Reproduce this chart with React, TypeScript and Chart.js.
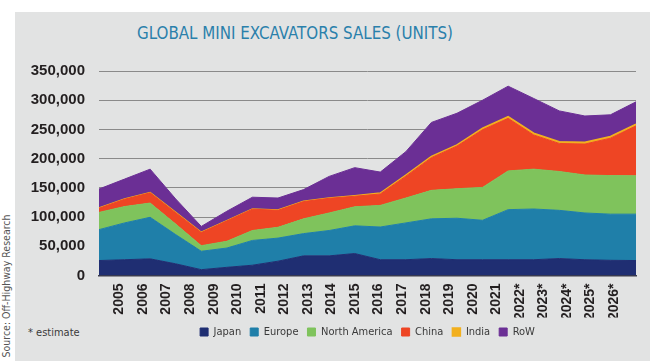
import React, { useEffect, useRef } from 'react';
import { Chart, registerables } from 'chart.js';

Chart.register(...registerables);

const years = ['2005', '2006', '2007', '2008', '2009', '2010', '2011', '2012', '2013', '2014', '2015', '2016', '2017', '2018', '2019', '2020', '2021', '2022*', '2023*', '2024*', '2025*', '2026*'];

const japan = [25600, 27000, 28500, 20000, 10000, 14000, 17600, 24500, 33600, 33600, 37600, 27000, 27000, 29000, 27000, 27000, 27000, 27000, 29000, 27000, 26000, 25600];
const europe = [52900, 63000, 71100, 50000, 31500, 33000, 42400, 39500, 38100, 43400, 47400, 56000, 63000, 68000, 71000, 67500, 85700, 86800, 82500, 80000, 79000, 79400];
const northAmerica = [29500, 28000, 24400, 18000, 9500, 11600, 17000, 18500, 25300, 30000, 32600, 37000, 42600, 48700, 50500, 56300, 66300, 68200, 66500, 65000, 66000, 65600];
const china = [7000, 12500, 17500, 19500, 22500, 34900, 36500, 29000, 29500, 25100, 18000, 19500, 37400, 56000, 73100, 98700, 90000, 58500, 48000, 53000, 64000, 85500];
const india = [500, 500, 500, 500, 500, 500, 500, 500, 500, 500, 1000, 1500, 2000, 2000, 2000, 2500, 3000, 3000, 3000, 3000, 3000, 3000];
const row = [32500, 34000, 40000, 23000, 10000, 16000, 20000, 20600, 20000, 37000, 48000, 36000, 40000, 58300, 54100, 48000, 52000, 59500, 52700, 45000, 37000, 38100];

const yMax = 350000;
const yStep = 50000;

const COND = "'DejaVu Sans', sans-serif";
const BOLD = "'Liberation Sans', Arial, sans-serif";

export default function App() {
  const ref = useRef<HTMLCanvasElement>(null);

  useEffect(() => {
    document.body.style.margin = '0';
    const canvas = ref.current!;
    const mk = (label: string, data: number[], color: string, fill: any, bw = 1) => ({
      label,
      data,
      backgroundColor: color,
      borderColor: color,
      borderWidth: bw,
      fill,
      pointRadius: 0,
      pointHoverRadius: 0,
      tension: 0,
      xAxisID: 'x',
      yAxisID: 'y',
    });
    const chart = new Chart(canvas, {
      type: 'line',
      data: {
        labels: years,
        datasets: [
          mk('Japan', japan, '#1f2e72', 'origin'),
          mk('Europe', europe, '#1f7fa9', '-1'),
          mk('North America', northAmerica, '#7fc35c', '-1'),
          mk('China', china, '#ee4524', '-1'),
          mk('India', india, '#f2b01e', '-1', 1.5),
          mk('RoW', row, '#6b2f95', '-1'),
        ],
      },
      options: {
        animation: false,
        responsive: false,
        devicePixelRatio: 1,
        events: [],
        layout: { padding: { top: 71, right: 14, left: 0, bottom: 13.5 } },
        plugins: {
          title: { display: false },
          tooltip: { enabled: false },
          legend: {
            position: 'bottom',
            fullSize: false,
            labels: {
              boxWidth: 8,
              boxHeight: 8,
              padding: 9,
              color: '#3a3a3a',
              font: { family: COND, size: 11, weight: 'condensed' },
            },
          },
        },
        scales: {
          x: {
            type: 'category',
            display: false,
            offset: false,
          },
          xl: {
            type: 'linear',
            position: 'bottom',
            min: -0.87,
            max: 21.93,
            afterBuildTicks: (scale: any) => {
              scale.ticks = years.map((_, i) => ({ value: i }));
            },
            afterFit: (scale: any) => {
              scale.height = 42;
            },
            grid: { display: false, drawTicks: false },
            border: { display: true, color: '#3d3d4d', width: 1.5 },
            ticks: {
              autoSkip: false,
              maxRotation: 90,
              minRotation: 90,
              padding: 8,
              color: '#231f20',
              font: { family: BOLD, size: 14, weight: 'bold' },
              callback: (_v: any, i: number) => years[i],
            },
          },
          y: {
            stacked: true,
            min: 0,
            max: yMax,
            afterFit: (scale: any) => {
              scale.width = 99;
            },
            grid: { color: '#8a8a8a', lineWidth: 1, drawTicks: false },
            border: { display: false },
            ticks: {
              stepSize: yStep,
              padding: 14,
              color: '#231f20',
              font: { family: BOLD, size: 15, weight: 'bold' },
              callback: (v: any) => Number(v).toLocaleString('en-US'),
            },
          },
        },
      } as any,
    });
    return () => chart.destroy();
  }, []);

  return (
    <div style={{ position: 'relative', width: 650, height: 361, background: '#ffffff', overflow: 'hidden' }}>
      <div style={{ position: 'absolute', left: 15, top: 12, right: 0, bottom: 0, background: '#e2e3e3' }} />
      <div
        style={{
          position: 'absolute',
          left: 0,
          top: 23,
          width: 590,
          textAlign: 'center',
          fontFamily: COND,
          fontStretch: 'condensed',
          fontSize: 16.8,
          lineHeight: '20px',
          color: '#2a80ab',
          whiteSpace: 'nowrap',
        }}
      >
        GLOBAL MINI EXCAVATORS SALES (UNITS)
      </div>
      <div
        style={{
          position: 'absolute',
          left: -74,
          top: 279,
          width: 160,
          height: 14,
          lineHeight: '14px',
          textAlign: 'center',
          fontFamily: COND,
          fontStretch: 'condensed',
          fontSize: 10.5,
          color: '#555555',
          transform: 'rotate(-90deg)',
          whiteSpace: 'nowrap',
        }}
      >
        Source: Off-Highway Research
      </div>
      <div
        style={{
          position: 'absolute',
          left: 28,
          top: 325,
          fontFamily: COND,
          fontStretch: 'condensed',
          fontSize: 11,
          lineHeight: '16px',
          color: '#3a3a3a',
          whiteSpace: 'nowrap',
        }}
      >
        * estimate
      </div>
      <canvas ref={ref} width={650} height={361} style={{ position: 'absolute', left: 0, top: 0 }} />
    </div>
  );
}
